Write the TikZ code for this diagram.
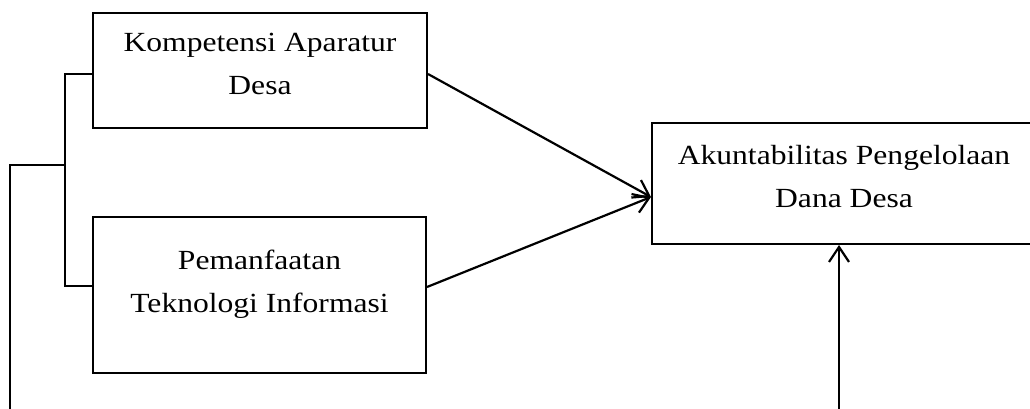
\documentclass[tikz,border=0pt]{standalone}
\usepackage{fontspec}
\setmainfont[FakeStretch=1.14]{Liberation Serif}
\usetikzlibrary{arrows.meta}
\begin{document}
\begin{tikzpicture}[x=1pt,y=-1pt,
  box/.style={draw,line width=2pt,inner sep=0pt},
  txt/.style={anchor=base,align=center,inner sep=0pt,
    font=\fontsize{27.7}{43}\selectfont},
  link/.style={line width=1.4pt},
  arr/.style={line width=2.2pt,-{Straight Barb[length=15pt,width=20pt,line width=2.2pt]}}]
\useasboundingbox (0,0) rectangle (1030,409);
% variable boxes
\node[box,minimum width=334pt,minimum height=115pt] (kad) at (260,70.5) {};
\node[box,minimum width=333pt,minimum height=156pt] (pti) at (259.5,295) {};
\node[box,minimum width=380pt,minimum height=121pt] (apd) at (842,183.5) {};
% box texts (anchored at the baseline of the last line)
\node[txt] (kadt) at (260,95) {Kompetensi Aparatur\\Desa};
\node[txt] (ptit) at (259.5,312) {Pemanfaatan\\Teknologi Informasi};
\node[txt] (apdt) at (844,207) {Akuntabilitas Pengelolaan\\Dana Desa};
% bracket joining the two independent variables
\coordinate (bk1) at (65,74);
\coordinate (bk2) at (65,286);
\coordinate (bkm) at (65,165);
\coordinate (out1) at (10,165);
\coordinate (out2) at (10,409);
\draw[link] (kad.west |- bk1) -- (bk1) -- (bk2) -- (pti.west |- bk2);
\draw[link] (bkm) -- (out1) -- (out2);
% arrows into the dependent variable
\coordinate (tip) at (652,197);
\draw[arr] (kad.east |- bk1) -- (apd.west |- tip);
\draw[arr] (pti.east |- 0,287) -- (apd.west |- tip);
\coordinate (up) at (839,409);
\draw[arr] (up) -- (apd.south -| up);
\end{tikzpicture}
\end{document}
